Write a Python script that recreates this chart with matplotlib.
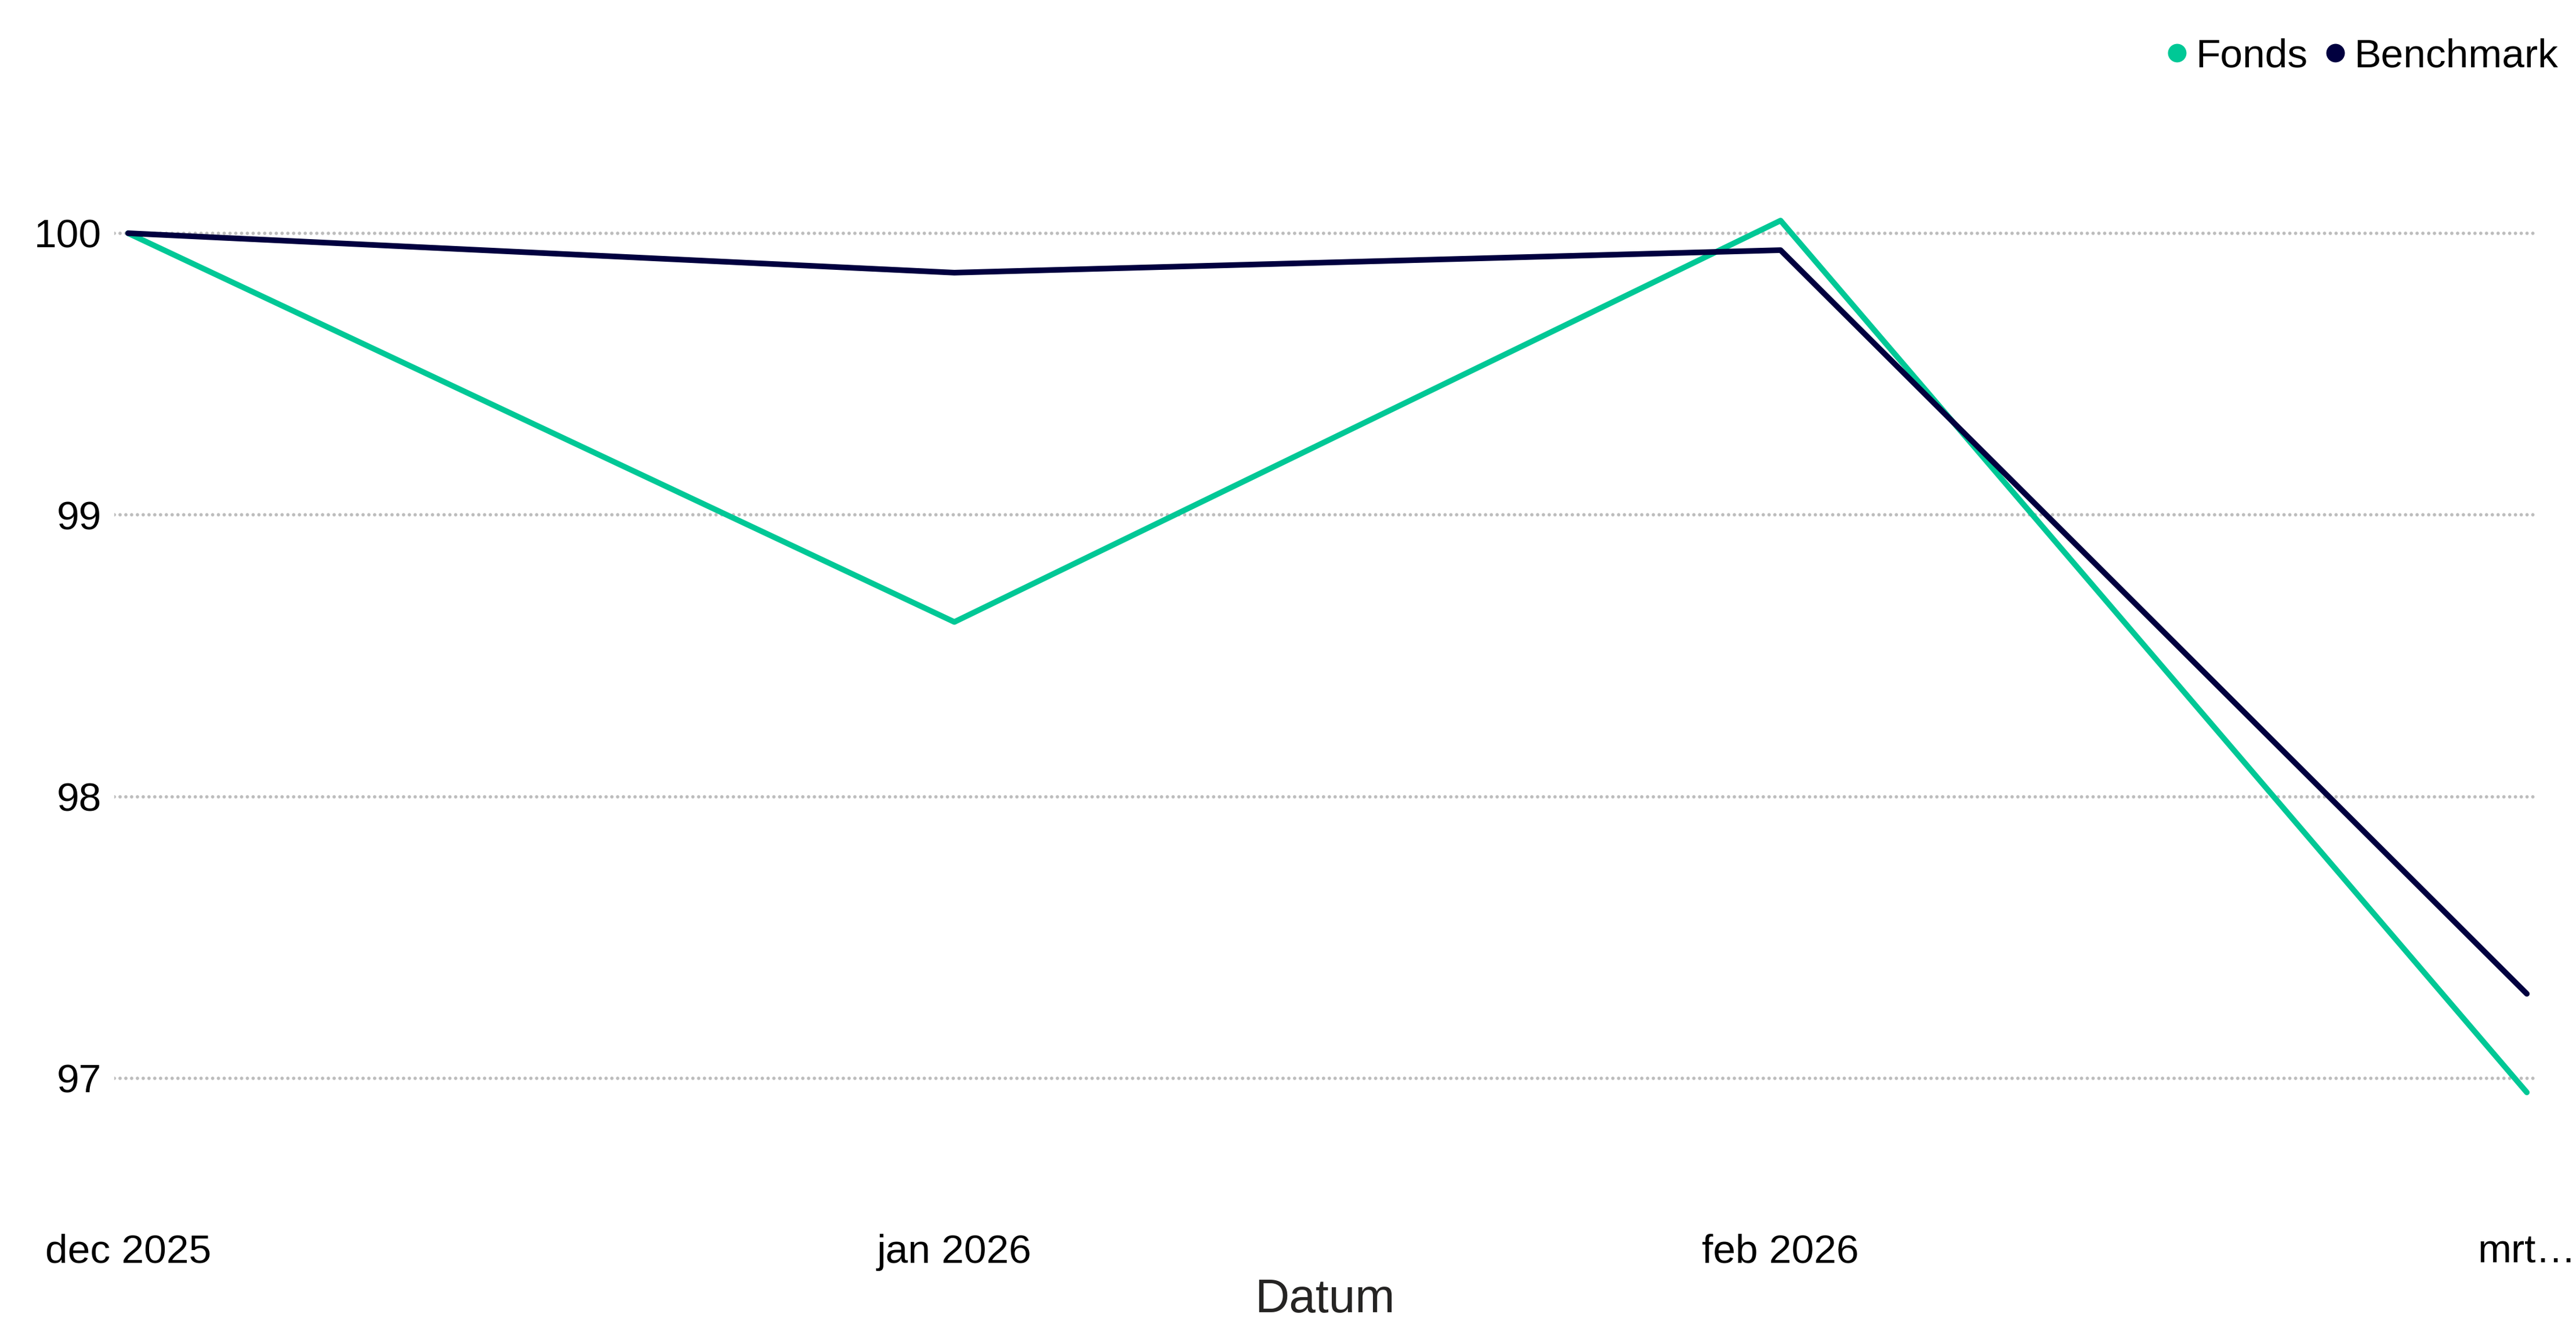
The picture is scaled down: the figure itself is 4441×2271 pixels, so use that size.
import numpy as np
import matplotlib
matplotlib.use("Agg")
import matplotlib.pyplot as plt
import matplotlib.dates as mdates
from matplotlib.lines import Line2D

plt.rcParams['font.family'] = ['Liberation Sans', 'DejaVu Sans']

# Data
dates = np.array(['2025-12-01', '2026-01-01', '2026-02-01', '2026-03-01'], dtype='datetime64[D]')
tick_labels = ['dec 2025', 'jan 2026', 'feb 2026', 'mrt\u2026']
fonds = [100.0, 98.62, 100.045, 96.95]
benchmark = [100.0, 99.86, 99.94, 97.30]
y_ticks = [97, 98, 99, 100]

fonds_color = '#00C896'
bench_color = '#01003F'

W, H = 4441, 2271
fig = plt.figure(figsize=(W / 100, H / 100), dpi=100)

# axes placed so gridlines span the same pixels as the reference
left, right = 197 / W, 4370 / W
bottom, top = 0.0750, 0.9299
ax = fig.add_axes([left, bottom, right - left, top - bottom])

x = mdates.date2num(dates)
ax.plot(x, fonds, color=fonds_color, lw=7, solid_capstyle='round', solid_joinstyle='round', zorder=3)
ax.plot(x, benchmark, color=bench_color, lw=7, solid_capstyle='round', solid_joinstyle='round', zorder=4)

ax.set_xlim(x[0] - 0.52, x[-1] + 0.3)
ax.set_ylim(96.5, 100.5)

ax.set_yticks(y_ticks)
ax.set_yticklabels([str(v) for v in y_ticks])
ax.set_xticks(x)
ax.set_xticklabels(tick_labels)

ax.grid(axis='y', color='#BDBDBD', lw=4.2, linestyle=(0, (0.01, 1.7)))
ax.grid(axis='x', visible=False)
for gl in ax.get_ygridlines():
    gl.set_dash_capstyle('round')

for s in ax.spines.values():
    s.set_visible(False)
ax.tick_params(axis='both', length=0, labelsize=50, colors='black')
ax.tick_params(axis='y', pad=16)
ax.tick_params(axis='x', pad=18)

ax.set_xlabel('Datum', fontsize=59, color='#252423', labelpad=9)

handles = [
    Line2D([], [], marker='o', ls='', color=fonds_color, markersize=22),
    Line2D([], [], marker='o', ls='', color=bench_color, markersize=22),
]
fig.legend(handles, ['Fonds', 'Benchmark'], loc='center right',
           bbox_to_anchor=(4410 / W, 1 - 97 / H), ncol=2, frameon=False,
           fontsize=50, handlelength=0.45, handletextpad=0.24, columnspacing=0.46,
           borderpad=0, borderaxespad=0)

fig.savefig('out.png', dpi=100, facecolor='white')
